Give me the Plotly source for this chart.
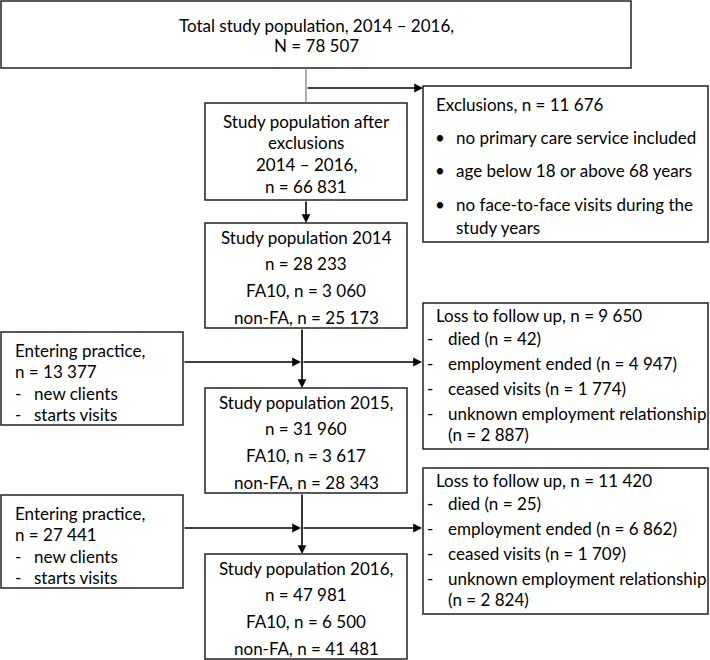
import plotly.graph_objects as go

# %% data
total_lines = ["Total study population, 2014 – 2016,", "N = 78 507"]
after_excl_lines = ["Study population after", "exclusions", "2014 – 2016,", "n = 66 831"]
excl_n = 11676
excl_reasons = ["no primary care service included",
                "age below 18 or above 68 years",
                "no face-to-face visits during the<br>study years"]

years = [2014, 2015, 2016]
year_titles = ["Study population 2014", "Study population 2015,", "Study population 2016,"]
n_total = [28233, 31960, 47981]
n_fa10 = [3060, 3617, 6500]
n_nonfa = [25173, 28343, 41481]

entering_n = [13377, 27441]
entering_items = ["new clients", "starts visits"]

loss_n = [9650, 11420]
loss_died = [42, 25]
loss_emp_ended = [4947, 6862]
loss_ceased = [1774, 1709]
loss_unknown = [2887, 2824]


def fmt(n):
    return f"{n:,}".replace(",", " ")


# %% layout helpers (pixel coordinates, y grows downwards)
FONT = "Lato"
FS = 17

fig = go.Figure()
shapes = []
annots = []


def box(x0, y0, x1, y1, color="#222222"):
    shapes.append(dict(type="rect", x0=x0, y0=y0, x1=x1, y1=y1,
                       line=dict(color=color, width=1.5), fillcolor="white", layer="below"))


def txt(x, y, s, anchor="center"):
    annots.append(dict(x=x, y=y, text=s, showarrow=False, xanchor=anchor, yanchor="middle",
                       align="left", font=dict(family=FONT, size=FS, color="black")))


def arrow(x0, y0, x1, y1):
    annots.append(dict(x=x1, y=y1, ax=x0, ay=y0, xref="x", yref="y", axref="x", ayref="y",
                       text="", showarrow=True, arrowhead=2, arrowsize=1.1, arrowwidth=1.6,
                       arrowcolor="black", standoff=0))


def line(x0, y0, x1, y1, color="black", width=1.6):
    shapes.append(dict(type="line", x0=x0, y0=y0, x1=x1, y1=y1,
                       line=dict(color=color, width=width)))


# top box
box(1, 1, 631, 68)
for i, s in enumerate(total_lines):
    txt(316, 25 + 20 * i, s)

# connector to exclusions
line(306, 68, 306, 103, color="#777777", width=1.2)
arrow(306, 88, 423, 88)

# exclusions box
box(423, 86, 708, 242)
txt(434, 104, f"Exclusions, n = {fmt(excl_n)}", "left")
for i, s in enumerate(excl_reasons):
    yy = 137 + 33.5 * i
    txt(440, yy, "•")
    if "<br>" in s:
        a, b = s.split("<br>")
        txt(454, yy, a, "left")
        txt(454, yy + 23, b, "left")
    else:
        txt(454, yy, s, "left")

# study population after exclusions
box(205, 103, 407, 200)
for i, s in enumerate(after_excl_lines):
    txt(306, 121 + 21.7 * i, s)
arrow(306, 200, 306, 223)

# yearly boxes
year_tops = [223, 388, 554]
for k, yr in enumerate(years):
    t = year_tops[k]
    box(205, t, 407, t + 105)
    rows = [year_titles[k], f"n = {fmt(n_total[k])}",
            f"FA10, n = {fmt(n_fa10[k])}", f"non-FA, n = {fmt(n_nonfa[k])}"]
    for i, s in enumerate(rows):
        txt(306, t + 14 + 26.8 * i, s)

# transitions between years
for k in range(2):
    bottom = year_tops[k] + 105
    top_next = year_tops[k + 1]
    ay = [362, 528][k]
    arrow(302, bottom, 302, top_next)

    # entering practice
    et = [332, 495][k]
    box(1, et, 183, et + 93)
    txt(13, et + 18, "Entering practice,", "left")
    txt(13, et + 39, f"n = {fmt(entering_n[k])}", "left")
    for i, s in enumerate(entering_items):
        txt(13, et + 61 + 21 * i, "-", "left")
        txt(32, et + 61 + 21 * i, s, "left")
    arrow(183, ay, 301, ay)

    # loss to follow up
    lt = [303, 468][k]
    box(423, lt, 708, lt + 146)
    arrow(302, ay, 422, ay)
    txt(434, lt + 12, f"Loss to follow up, n = {fmt(loss_n[k])}", "left")
    items = [f"died (n = {loss_died[k]})",
             f"employment ended (n = {fmt(loss_emp_ended[k])})",
             f"ceased visits (n = {fmt(loss_ceased[k])})",
             "unknown employment relationship"]
    for i, s in enumerate(items):
        yy = lt + 35 + 25 * i
        txt(425, yy, "-", "left")
        txt(446, yy, s, "left")
    txt(446, lt + 131, f"(n = {fmt(loss_unknown[k])})", "left")

fig.update_layout(
    width=710, height=660,
    margin=dict(l=0, r=0, t=0, b=0),
    plot_bgcolor="white", paper_bgcolor="white",
    xaxis=dict(range=[0, 710], visible=False, fixedrange=True),
    yaxis=dict(range=[660, 0], visible=False, fixedrange=True),
    shapes=shapes, annotations=annots, showlegend=False,
)
fig.write_html("out.html", config={"displayModeBar": False},
               post_script="document.body.style.margin='0';")
